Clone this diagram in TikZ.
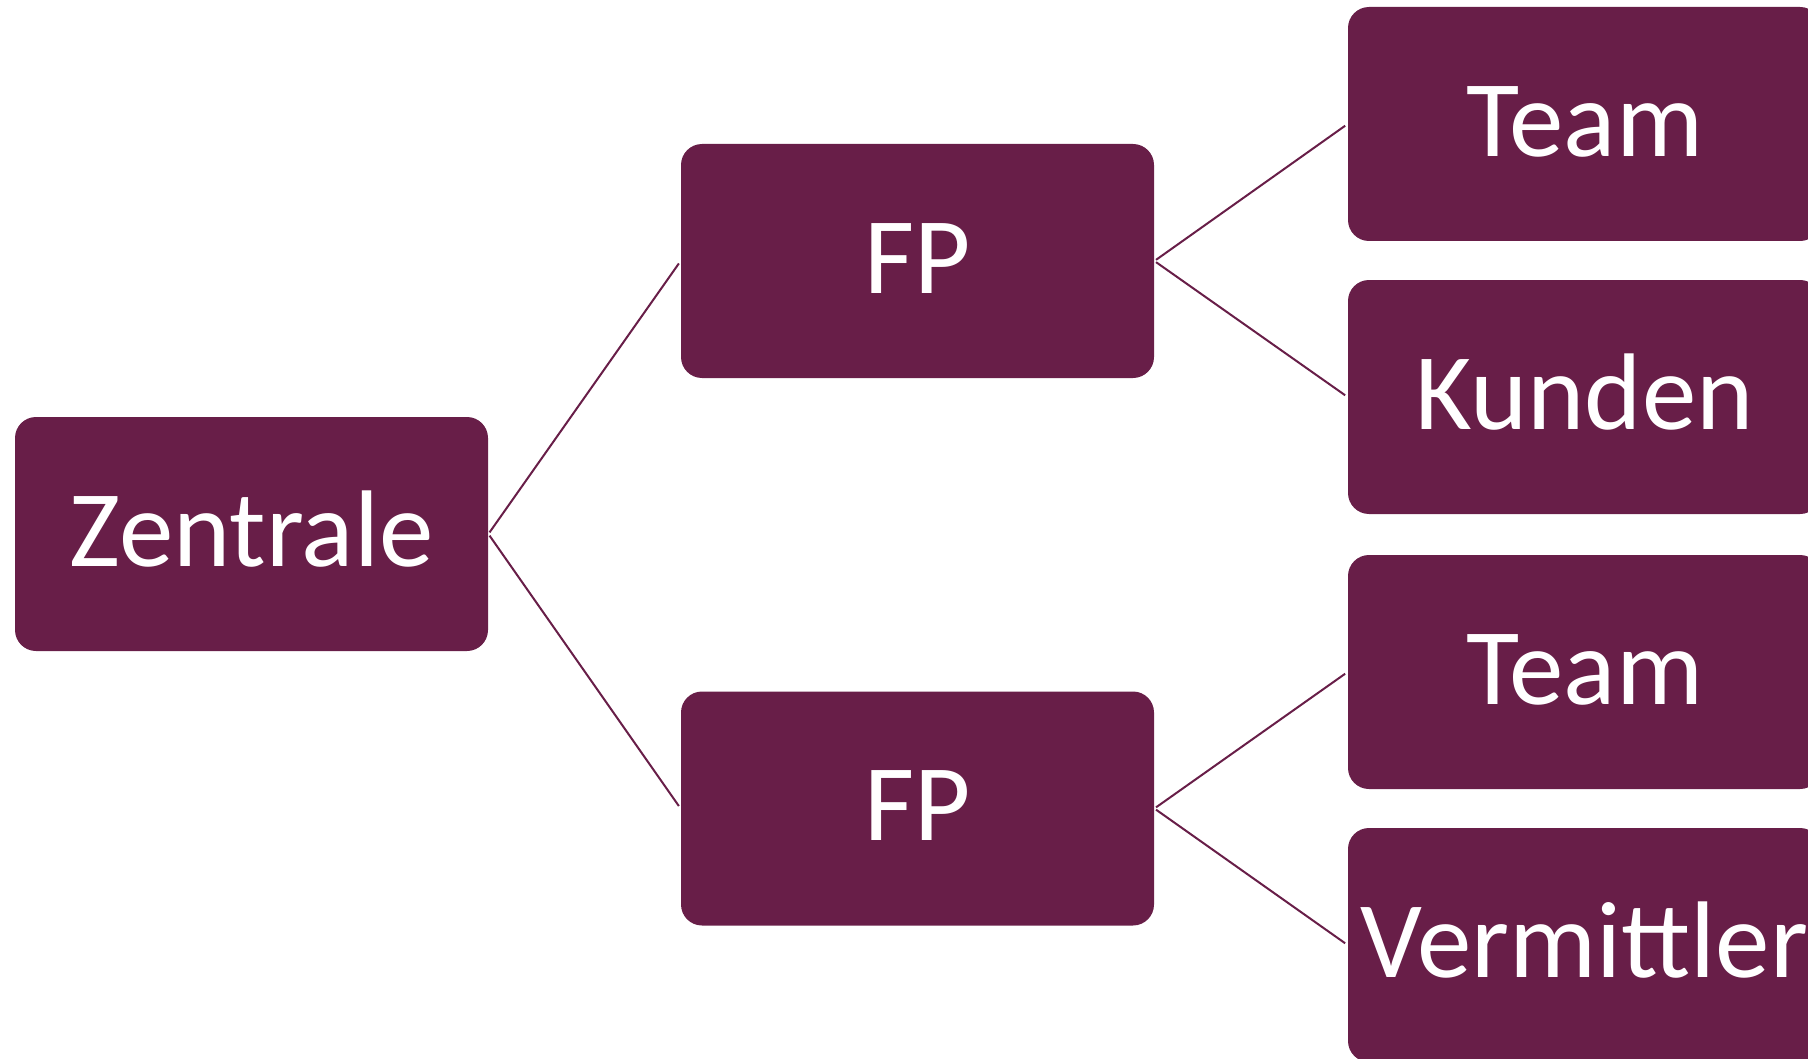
\documentclass[tikz,border=0pt]{standalone}
\usepackage{fontspec}
\setmainfont{Carlito}
\definecolor{plum}{HTML}{681E48}
\tikzset{
  orgbox/.style={rectangle, rounded corners=10.5pt, fill=plum, text=white,
    minimum width=236.5pt, minimum height=117pt, inner sep=0pt,
    text height=32.3pt, text depth=0pt,
    font=\fontsize{54.5}{60}\selectfont},
  link/.style={draw=plum, line width=1pt, shorten <=1pt, shorten >=1.5pt}
}
\begin{document}
\begin{tikzpicture}[x=0.5pt,y=-0.5pt]
  \useasboundingbox (0,0) rectangle (1808,1059);
  \clip (0,0) rectangle (1808,1059);
  % root
  \node[orgbox] (zen) at (251.5,534) {Zentrale};
  % second level
  \node[orgbox] (fpa) at (917.5,261) {FP};
  \node[orgbox] (fpb) at (917.5,808.5) {FP};
  % third level
  \node[orgbox] (teama) at (1584.5,124) {Team};
  \node[orgbox] (kunden) at (1584.5,397) {Kunden};
  \node[orgbox] (teamb) at (1584.5,672) {Team};
  \node[orgbox] (verm) at (1584.5,945) {Vermittler};
  % connectors
  \draw[link] (zen.east) -- (fpa.west);
  \draw[link] (zen.east) -- (fpb.west);
  \draw[link] (fpa.east) -- (teama.west);
  \draw[link] (fpa.east) -- (kunden.west);
  \draw[link] (fpb.east) -- (teamb.west);
  \draw[link] (fpb.east) -- (verm.west);
\end{tikzpicture}
\end{document}
